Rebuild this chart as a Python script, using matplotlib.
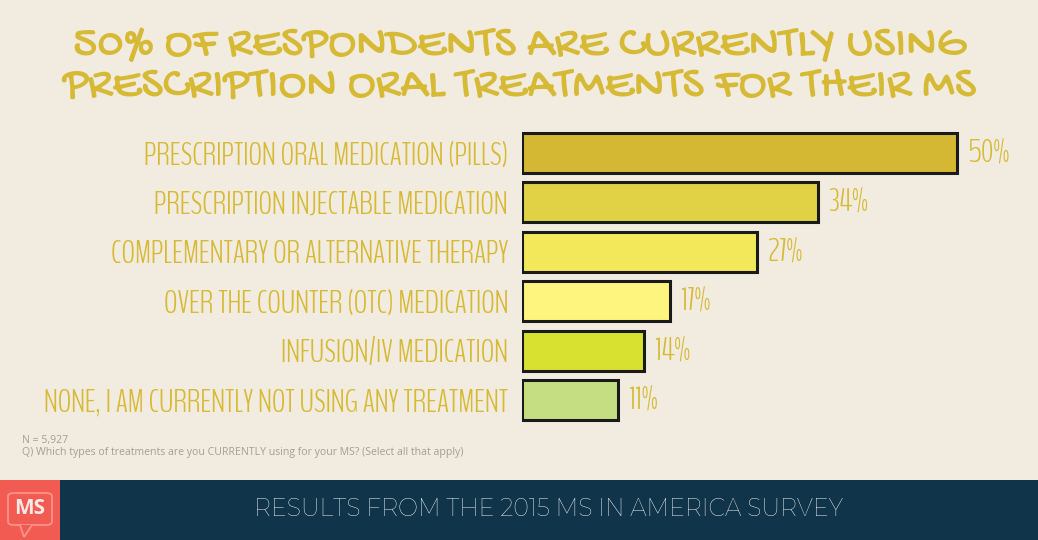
import matplotlib
matplotlib.use("Agg")
import matplotlib.pyplot as plt
from matplotlib.patches import Rectangle, FancyBboxPatch, Polygon
from matplotlib import font_manager

categories = [
    "PRESCRIPTION ORAL MEDICATION (PILLS)",
    "PRESCRIPTION INJECTABLE MEDICATION",
    "COMPLEMENTARY OR ALTERNATIVE THERAPY",
    "OVER THE COUNTER (OTC) MEDICATION",
    "INFUSION/IV MEDICATION",
    "NONE, I AM CURRENTLY NOT USING ANY TREATMENT",
]
values = [50, 34, 27, 17, 14, 11]
bar_colors = ["#D4B833", "#E0D244", "#F2E85A", "#FEF57E", "#D8E030", "#C5DE82"]

title_lines = ["50% OF RESPONDENTS ARE CURRENTLY USING",
               "PRESCRIPTION ORAL TREATMENTS FOR THEIR MS"]
note_n = "N = 5,927"
note_q = "Q) Which types of treatments are you CURRENTLY using for your MS? (Select all that apply)"
footer = "RESULTS FROM THE 2015 MS IN AMERICA SURVEY"

avail = {f.name for f in font_manager.fontManager.ttflist}


def pick(*names):
    for n in names:
        if n in avail:
            return [n, "DejaVu Sans"]
    return ["DejaVu Sans"]


label_font = pick("BenchNine", "Pathway Gothic One", "Antonio", "Oswald")
title_font = pick("Gochi Hand", "Patrick Hand SC", "Amatic SC")
thin_font = pick("Montserrat", "Lato", "Open Sans")
note_font = pick("Open Sans", "Lato", "Noto Sans")

BG = "#F2EBDF"
GOLD = "#D6BA36"
W, H = 1038, 540
fig = plt.figure(figsize=(W / 100, H / 100), dpi=100, facecolor=BG)

# bars axes
ax = fig.add_axes([522 / W, 1 - 425 / H, 516 / W, 297 / H])
ax.set_facecolor("none")
ypos = list(range(len(categories)))
ax.barh(ypos, values, height=0.8, color=bar_colors, edgecolor="#1a1a1a", linewidth=2.2)
ax.set_xlim(0, 516 / 8.7)
ax.set_ylim(len(categories) - 0.5, -0.5)
ax.set_yticks(ypos)
ax.set_yticklabels(categories, fontfamily=label_font, fontweight="light", fontsize=23, color=GOLD)
ax.tick_params(axis="y", length=0, pad=10)
ax.set_xticks([])
for s in ax.spines.values():
    s.set_visible(False)
for i, v in enumerate(values):
    ax.annotate(f"{v}%", xy=(v, i), xytext=(8, 0), textcoords="offset points",
                ha="left", va="center", fontfamily=label_font, fontweight="light",
                fontsize=23, color=GOLD)

# title
for k, line in enumerate(title_lines):
    fig.text(519 / W, 1 - (48 + 40 * k) / H, line, ha="center", va="center",
             fontfamily=title_font, fontsize=33.5, color=GOLD)

# notes
fig.text(22 / W, 1 - 440 / H, note_n, ha="left", va="center",
         fontfamily=note_font, fontsize=7.6, color="#A29F99")
fig.text(22 / W, 1 - 452 / H, note_q, ha="left", va="center",
         fontfamily=note_font, fontsize=7.6, color="#A29F99")

# footer band
fig.patches.append(Rectangle((60 / W, 0), (W - 60) / W, 60 / H, transform=fig.transFigure,
                             facecolor="#10354A", edgecolor="none", zorder=0))
fig.patches.append(Rectangle((0, 0), 60 / W, 60 / H, transform=fig.transFigure,
                             facecolor="#F15B51", edgecolor="none", zorder=0))
fig.patches.append(FancyBboxPatch((8 / W, 1 - 525 / H), 44 / W, 32 / H,
                                  boxstyle="round,pad=0,rounding_size=0.006",
                                  transform=fig.transFigure, facecolor="none",
                                  edgecolor="#F9938B", linewidth=1.3, zorder=0.5))
fig.patches.append(Polygon([(20 / W, 1 - 525 / H), (24 / W, 1 - 537 / H), (32 / W, 1 - 525 / H)],
                           closed=False, transform=fig.transFigure, facecolor="#F15B51",
                           edgecolor="#F9938B", linewidth=1.3, zorder=0.6))
fig.text(30 / W, 1 - 509 / H, "MS", ha="center", va="center", fontfamily=pick("Open Sans", "Lato"),
         fontweight="bold", fontsize=15, color="#FFE9E6", zorder=5)
fig.text(549 / W, 1 - 510 / H, footer, ha="center", va="center",
         fontfamily=thin_font, fontsize=17, color="white", zorder=5)

fig.savefig("out.png", dpi=100, facecolor=BG)
